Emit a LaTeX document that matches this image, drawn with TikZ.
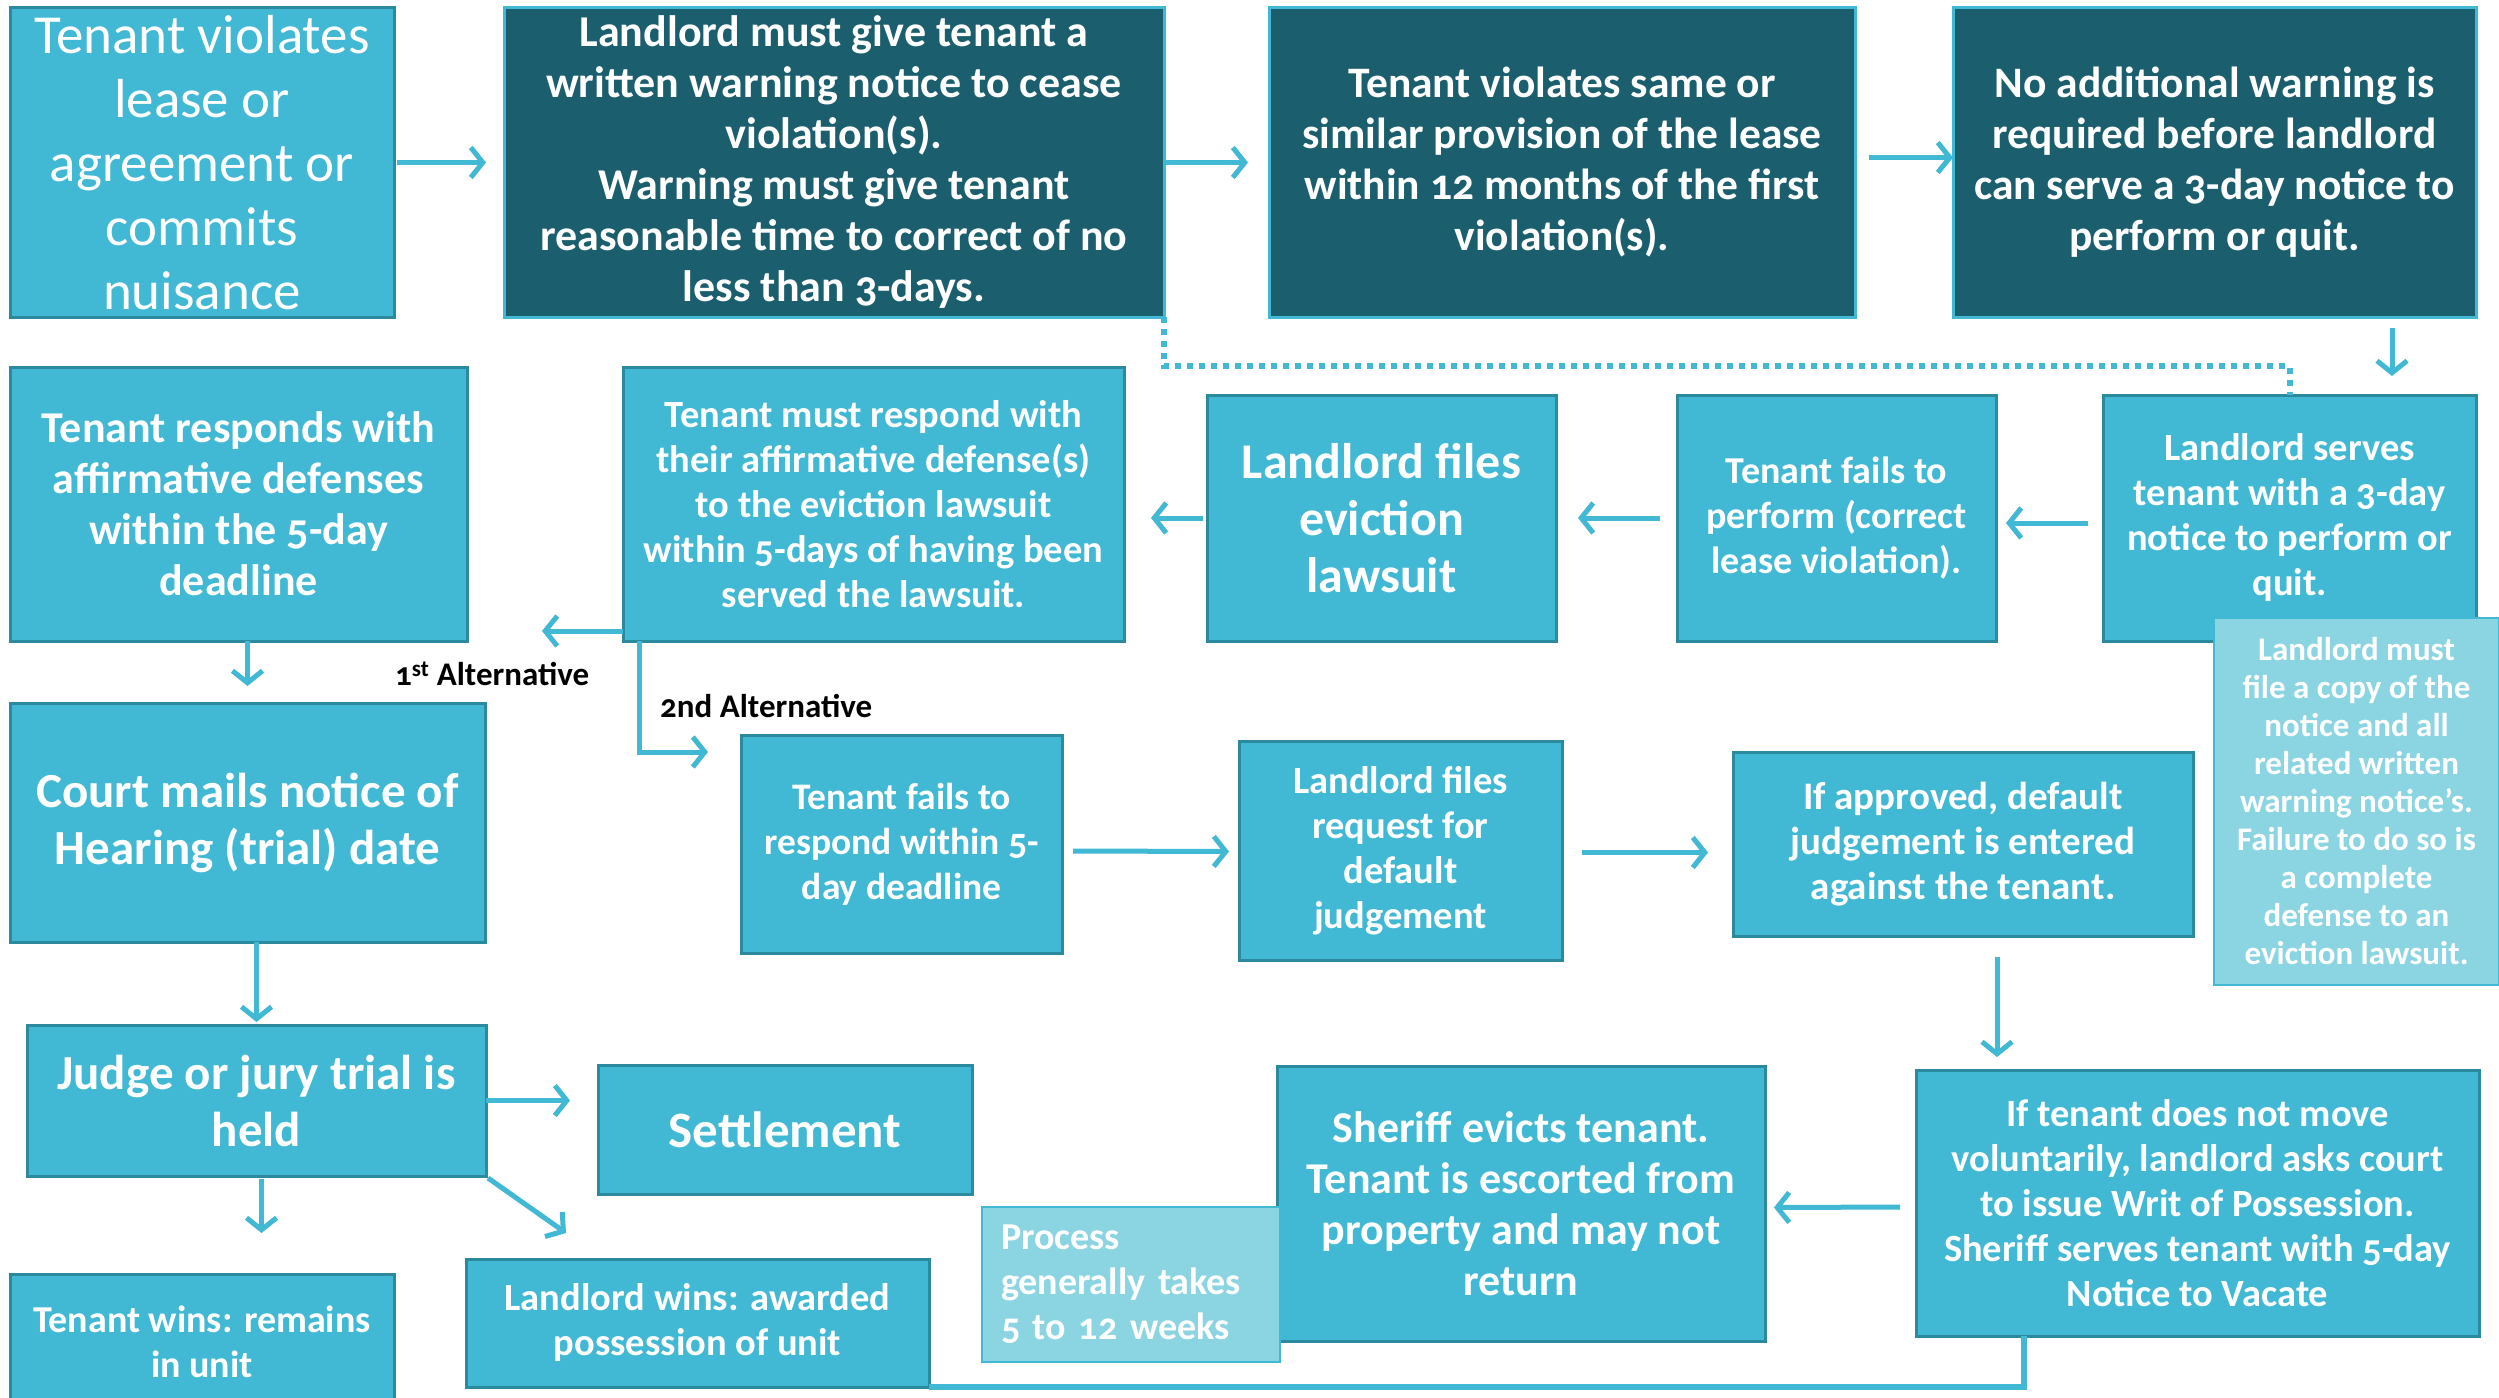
\documentclass[tikz,border=0pt]{standalone}
\usepackage{fontspec}
\setmainfont{Carlito}[Numbers=OldStyle]
\usetikzlibrary{arrows.meta,calc}
\definecolor{midc}{HTML}{41B8D4}
\definecolor{bordc}{HTML}{2B8A9D}
\definecolor{darkc}{HTML}{1B5F6E}
\definecolor{notec}{HTML}{8BD5E3}
\definecolor{arrc}{HTML}{41B8D4}
\begin{document}
\begin{tikzpicture}[x=1pt,y=-1pt,
  fs/.style n args={2}{font=\bfseries\fontsize{#1}{#2}\selectfont},
  fr/.style n args={2}{font=\fontsize{#1}{#2}\selectfont},
  box/.style={draw=bordc, line width=3pt, fill=midc, text=white, align=center,
    inner sep=0pt, outer sep=0pt, anchor=north west},
  dbox/.style={box, fill=darkc, draw=midc},
  nbox/.style={box, fill=notec, draw=midc, line width=2.5pt},
  arr/.style={draw=arrc, line width=5pt, -{Straight Barb[length=12pt,width=30pt]}},
  conn/.style={draw=arrc, line width=6pt},
  dotline/.style={draw=arrc, line width=6pt, dash pattern=on 6pt off 6pt},
  lab/.style={text=black, anchor=west, inner sep=0pt, font=\bfseries\fontsize{33}{38}\selectfont}
]
\useasboundingbox (0,0) rectangle (2499,1397);
\fill[white] (0,0) rectangle (2499,1397);

% Row 1
\node[box, fr={55}{64}, minimum width=384, minimum height=309] (A) at (10,8)
  {Tenant violates\\lease or\\agreement or\\commits\\nuisance};
\node[dbox, fs={44}{51}, minimum width=660, minimum height=309] (B) at (504,8)
  {Landlord must give tenant a\\written warning notice to cease\\violation(s).\\Warning must give tenant\\reasonable time to correct of no\\less than 3-days.};
\node[dbox, fs={43.5}{51}, minimum width=586, minimum height=309] (C) at (1269,8)
  {Tenant violates same or\\similar provision of the lease\\within 12 months of the first\\violation(s).};
\node[dbox, fs={43.5}{51}, minimum width=523, minimum height=309] (D) at (1953,8)
  {No additional warning is\\required before landlord\\can serve a 3-day notice to\\perform or quit.};

% Row 2
\node[box, fs={44}{51}, minimum width=457, minimum height=274] (E) at (10,367)
  {Tenant responds with\\affirmative defenses\\within the 5-day\\deadline};
\node[box, fs={38.5}{45}, minimum width=501, minimum height=274] (F) at (623,367)
  {Tenant must respond with\\their affirmative defense(s)\\to the eviction lawsuit\\within 5-days of having been\\served the lawsuit.};
\node[box, fs={50}{57}, minimum width=349, minimum height=246] (G) at (1207,395)
  {Landlord files\\eviction\\lawsuit};
\node[box, fs={38}{45}, minimum width=319, minimum height=246] (H) at (1677,395)
  {Tenant fails to\\perform (correct\\lease violation).};
\node[box, fs={38.5}{45}, minimum width=373, minimum height=246] (I) at (2103,395)
  {Landlord serves\\tenant with a 3-day\\notice to perform or\\quit.};
\node[nbox, fs={33}{38}, minimum width=285, minimum height=367] (J) at (2214,618)
  {Landlord must\\file a copy of the\\notice  and all\\related written\\warning notice’s.\\Failure to do so is\\a complete\\defense to an\\eviction lawsuit.};

% Row 3
\node[box, fs={49}{57}, minimum width=475, minimum height=239] (K) at (10,703)
  {Court mails notice of\\Hearing (trial) date};
\node[box, fs={37.5}{45}, minimum width=321, minimum height=218] (L) at (741,735)
  {Tenant fails to\\respond within 5-\\day deadline};
\node[box, fs={38.5}{45}, minimum width=323, minimum height=219] (M) at (1239,741)
  {Landlord files\\request for\\default\\judgement};
\node[box, fs={39}{45}, minimum width=460, minimum height=184] (N) at (1733,752)
  {If approved, default\\judgement is entered\\against the tenant.};

% Row 4
\node[box, fs={49}{57}, minimum width=459, minimum height=151] (O) at (27,1025)
  {Judge or jury trial is\\held};
\node[box, fs={51}{57}, minimum width=374, minimum height=129] (P) at (598,1065)
  {Settlement};
\node[box, fs={44}{51}, minimum width=488, minimum height=275] (Q) at (1277,1066)
  {Sheriff evicts tenant.\\Tenant is escorted from\\property and may not\\return};
\node[box, fs={38.5}{45}, minimum width=563, minimum height=266] (R) at (1916,1070)
  {If tenant does not move\\voluntarily, landlord asks court\\to issue Writ of Possession.\\Sheriff serves tenant with 5-day\\Notice to Vacate};
\node[nbox, fs={38}{45}, align=left, text width=260, inner xsep=19, minimum height=155] (S) at (982,1207)
  {Process\\generally takes\\5 to 12 weeks};

% Row 5
\node[box, fs={38}{45}, minimum width=384, minimum height=135] (T) at (10,1274)
  {Tenant wins: remains\\in unit};
\node[box, fs={38.5}{45}, minimum width=463, minimum height=128] (U) at (466,1259)
  {Landlord wins: awarded\\possession of unit};

% Labels
\node[lab] (L1) at (395,674) {1\textsuperscript{st} Alternative};
\node[lab] (L2) at (660,706) {2nd Alternative};

% Connectors
\draw[arr] ([xshift=3pt]A.east) -- ([xshift=-18pt]B.west);
\draw[arr] (B.east) -- ([xshift=-21pt]C.west);
\draw[arr] ($(C.east)+(14,-5)$) -- ($(D.west)+(0,-5)$);
\draw[arr] ($(D.south east)+(-84,11)$) -- ($(I.north east)+(-84,-19)$);
\draw[dotline] (B.south east) |- ($(I.north)+(0,-29)$) -- (I.north);
\draw[arr] ($(I.west)+(-15,5)$) -- ($(H.east)+(10,5)$);
\draw[arr] ($(H.west)+(-17,0)$) -- ($(G.east)+(22,0)$);
\draw[arr] ($(G.west)+(-4,0)$) -- ($(G.west -| F.east)+(27,0)$);
\draw[arr] ($(F.south west)+(0,-10)$) -- ($(E.south east)+(75,-10)$);
\draw[arr] (E.south -| K.north) -- ($(K.north)+(0,-17)$);
\draw[arr] ($(F.south west)+(16,0)$) |- ($(L.north west)+(-33,17)$);
\draw[arr] ($(L.east)+(11,7)$) -- ($(M.west)+(-10,1)$);
\draw[arr] ($(M.east)+(20,2)$) -- ($(M.east -| N.west)+(-25,2)$);
\draw[arr] ($(N.south)+(34,21)$) -- ($(R.north west)+(81,-13)$);
\draw[arr] ($(R.west)+(-16,4)$) -- ($(Q.east)+(9,4)$);
\draw[conn] ($(R.south west)+(108,0)$) |- (U.south east);
\draw[arr] (K.south -| O.north) -- ($(O.north)+(0,-3)$);
\draw[arr] (O.east) -- ($(O.east -| P.west)+(-28,0)$);
\draw[arr] ($(O.south)+(5,3)$) -- ($(O.south)+(5,57)$);
\draw[arr] ($(O.south east)+(2,2)$) -- ($(U.north west)+(100,-26)$);
\end{tikzpicture}
\end{document}
